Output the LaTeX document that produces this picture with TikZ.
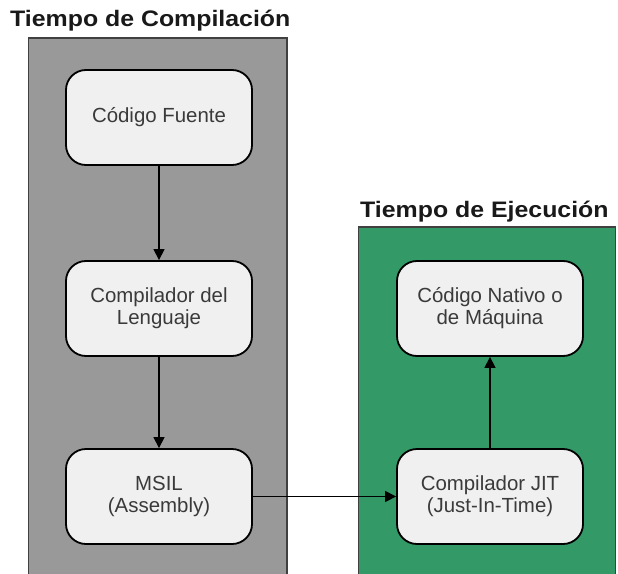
\documentclass[tikz,border=0pt]{standalone}
\usepackage{fontspec}
\setmainfont{Liberation Sans}
\newfontfamily\titlefont{Liberation Sans}[FakeStretch=1.11]
\usetikzlibrary{arrows.meta}

\begin{document}
\begin{tikzpicture}[x=1bp,y=-1bp,
    box/.style={draw=black, line width=1.8bp, fill=boxgray, rounded corners=20bp,
      minimum width=186bp, minimum height=95bp, inner sep=0pt, align=center,
      text=txtgray, font=\fontsize{20.5}{22}\selectfont},
    flow/.style={line width=1.3bp, -{Triangle[length=11bp,width=11bp]}},
    paneltitle/.style={anchor=base west, inner sep=0pt, text=black!90,
      font=\titlefont\bfseries\fontsize{22.5}{26}\selectfont}]
    % colours and page size %
    \definecolor{panelgray}{RGB}{153,153,153}
    \definecolor{panelgreen}{RGB}{51,153,102}
    \definecolor{boxgray}{RGB}{240,240,240}
    \definecolor{txtgray}{RGB}{58,58,58}
    \useasboundingbox (0,0) rectangle (618,574);

    % the two panels %
    \draw [fill=panelgray, draw=black!75, line width=1.3bp] (28.5,580) -- (28.5,38) -- (287,38) -- (287,580);
    \draw [fill=panelgreen, draw=black!75, line width=1.3bp] (358.5,580) -- (358.5,227) -- (615.5,227) -- (615.5,580);
    \node [paneltitle] (comptitle) at (10,27) {Tiempo de Compilación};
    \node [paneltitle] (ejectitle) at (360,217) {Tiempo de Ejecución};

    % steps %
    \node [box] (fuente) at (159,117.5) {Código Fuente};
    \node [box] (lenguaje) at (159,308.5) {Compilador del\\Lenguaje};
    \node [box] (msil) at (159,496.5) {MSIL\\(Assembly)};
    \node [box] (jit) at (490,496.5) {Compilador JIT\\(Just-In-Time)};
    \node [box] (nativo) at (490,308.5) {Código Nativo o\\de Máquina};

    % arrows %
    \draw [flow] (fuente) -- (lenguaje);
    \draw [flow] (lenguaje) -- (msil);
    \draw [flow] (msil) -- (jit);
    \draw [flow] (jit) -- (nativo);
  \end{tikzpicture}
\end{document}
